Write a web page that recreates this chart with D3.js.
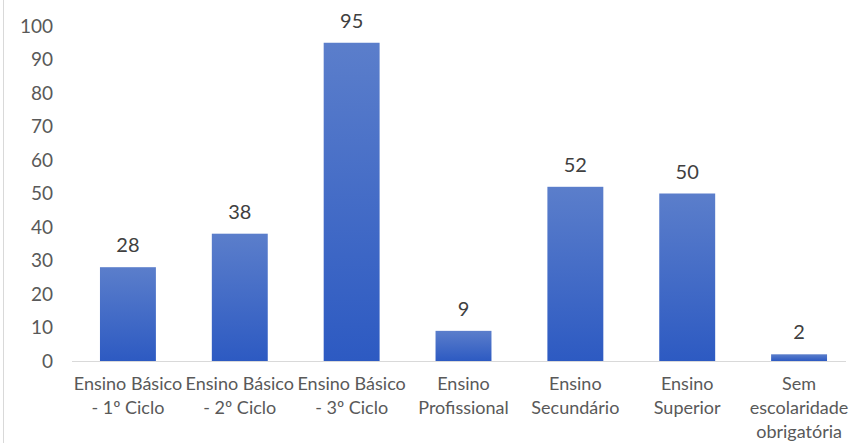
<!DOCTYPE html>
<html>
<head>
<meta charset="utf-8">
<script src="https://cdn.jsdelivr.net/npm/d3@7"></script>
<style>
  body { margin: 0; background: #fff; }
  text { font-family: Lato, "Open Sans", sans-serif; }
</style>
</head>
<body>
<div id="chart"></div>
<script>
const categories = [
    ["Ensino Básico", "- 1º Ciclo"],
    ["Ensino Básico", "- 2º Ciclo"],
    ["Ensino Básico", "- 3º Ciclo"],
    ["Ensino", "Profissional"],
    ["Ensino", "Secundário"],
    ["Ensino", "Superior"],
    ["Sem", "escolaridade", "obrigatória"]
]
const values = [28, 38, 95, 9, 52, 50, 2]
const yTicks = [0, 10, 20, 30, 40, 50, 60, 70, 80, 90, 100]

const W = 849, H = 443
const svg = d3.select("#chart").append("svg")
    .attr("width", W)
    .attr("height", H)

// thin frame on the left, as in the source picture
svg.append("line")
    .attr("x1", 3.5).attr("x2", 3.5)
    .attr("y1", 0).attr("y2", H)
    .attr("stroke", "#d9d9d9")

const grad = svg.append("defs").append("linearGradient")
    .attr("id", "barGrad")
    .attr("x1", 0).attr("y1", 0).attr("x2", 0).attr("y2", 1)
grad.append("stop").attr("offset", "0%").attr("stop-color", "#5b7ecb")
grad.append("stop").attr("offset", "100%").attr("stop-color", "#2d5ac2")

const xScale = d3.scaleBand()
    .domain(categories.map((d, i) => i))
    .range([72, 855])
    .paddingInner(0.5)
    .paddingOuter(0.25)

const yScale = d3.scaleLinear()
    .domain([0, 100])
    .range([361, 26])

// y labels
svg.append("g")
    .selectAll("text")
    .data(yTicks)
    .join("text")
        .attr("x", 53)
        .attr("y", d => yScale(d))
        .attr("dy", "0.36em")
        .attr("text-anchor", "end")
        .attr("font-size", "19px")
        .attr("fill", "#595959")
        .text(d => d)

// baseline
svg.append("line")
    .attr("x1", 72).attr("x2", 846)
    .attr("y1", yScale(0) + 0.5).attr("y2", yScale(0) + 0.5)
    .attr("stroke", "#d9d9d9")
    .attr("stroke-width", 1.2)

svg.append("g")
    .selectAll("rect")
    .data(values)
    .join("rect")
        .attr("x", (d, i) => xScale(i))
        .attr("y", d => yScale(d))
        .attr("width", xScale.bandwidth())
        .attr("height", d => yScale(0) - yScale(d))
        .attr("fill", "url(#barGrad)")

svg.append("g")
    .selectAll("text")
    .data(values)
    .join("text")
        .attr("x", (d, i) => xScale(i) + xScale.bandwidth() / 2)
        .attr("y", d => yScale(d) - 15)
        .attr("text-anchor", "middle")
        .attr("font-size", "20px")
        .attr("fill", "#404040")
        .text(d => d)

const labels = svg.append("g")
    .selectAll("text")
    .data(categories)
    .join("text")
        .attr("x", (d, i) => xScale(i) + xScale.bandwidth() / 2)
        .attr("y", 390)
        .attr("text-anchor", "middle")
        .attr("font-size", "18px")
        .attr("fill", "#595959")

labels.selectAll("tspan")
    .data((d, i) => d.map(t => ({t, x: xScale(i) + xScale.bandwidth() / 2})))
    .join("tspan")
        .attr("x", d => d.x)
        .attr("dy", (d, j) => j === 0 ? 0 : 24)
        .text(d => d.t)
</script>
</body>
</html>
